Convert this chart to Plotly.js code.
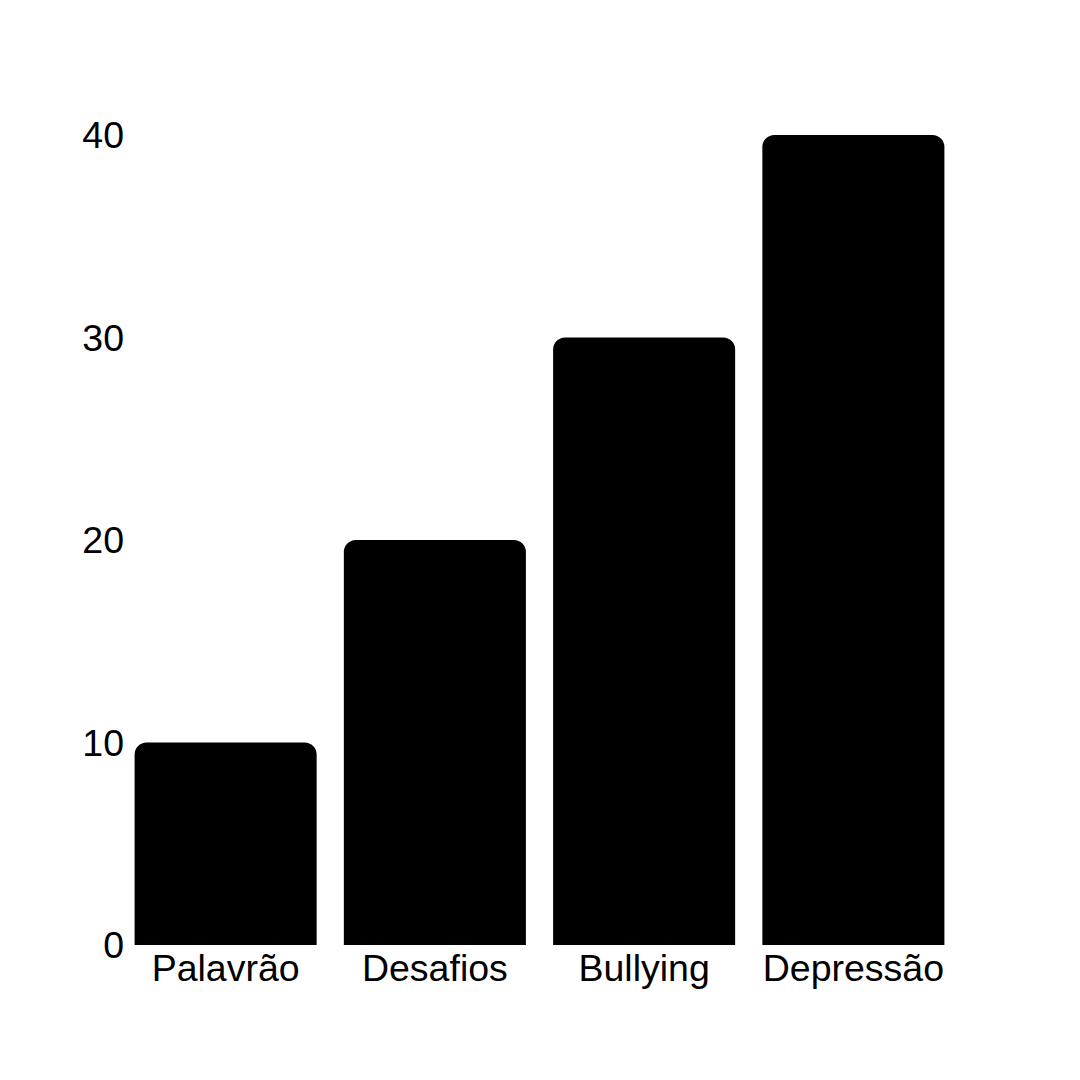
<!DOCTYPE html>
<html>
<head>
<meta charset="utf-8">
<script src="https://cdn.plot.ly/plotly-3.0.1.min.js"></script>
<style>html,body{margin:0;padding:0;background:#fff;}#chart{width:1080px;height:1080px;}</style>
</head>
<body>
<div id="chart"></div>
<script>
var categories = ["Palavrão", "Desafios", "Bullying", "Depressão"];
var values = [10, 20, 30, 40];
var yTickValues = [0, 10, 20, 30, 40];

var trace = {
  type: "bar",
  x: categories,
  y: values,
  marker: {color: "#000000"},
  hoverinfo: "x+y"
};

var layout = {
  width: 1080,
  height: 1080,
  margin: {l: 121, r: 122, t: 135, b: 135, pad: 0},
  paper_bgcolor: "#ffffff",
  plot_bgcolor: "#ffffff",
  bargap: 0.13,
  barcornerradius: 12,
  font: {family: "Liberation Sans, Arial, sans-serif", size: 37.5, color: "#000000"},
  showlegend: false,
  xaxis: {
    showgrid: false, zeroline: false, showline: false, ticks: "",
    ticklabelstandoff: -3,
    tickfont: {size: 37.5, color: "#000000"}
  },
  yaxis: {
    range: [0, 40],
    tickvals: yTickValues,
    showgrid: false, zeroline: false, showline: false, ticks: "",
    ticklabelstandoff: -4,
    tickfont: {size: 37.5, color: "#000000"}
  }
};

Plotly.newPlot("chart", [trace], layout, {displayModeBar: false, staticPlot: true});
</script>
</body>
</html>
